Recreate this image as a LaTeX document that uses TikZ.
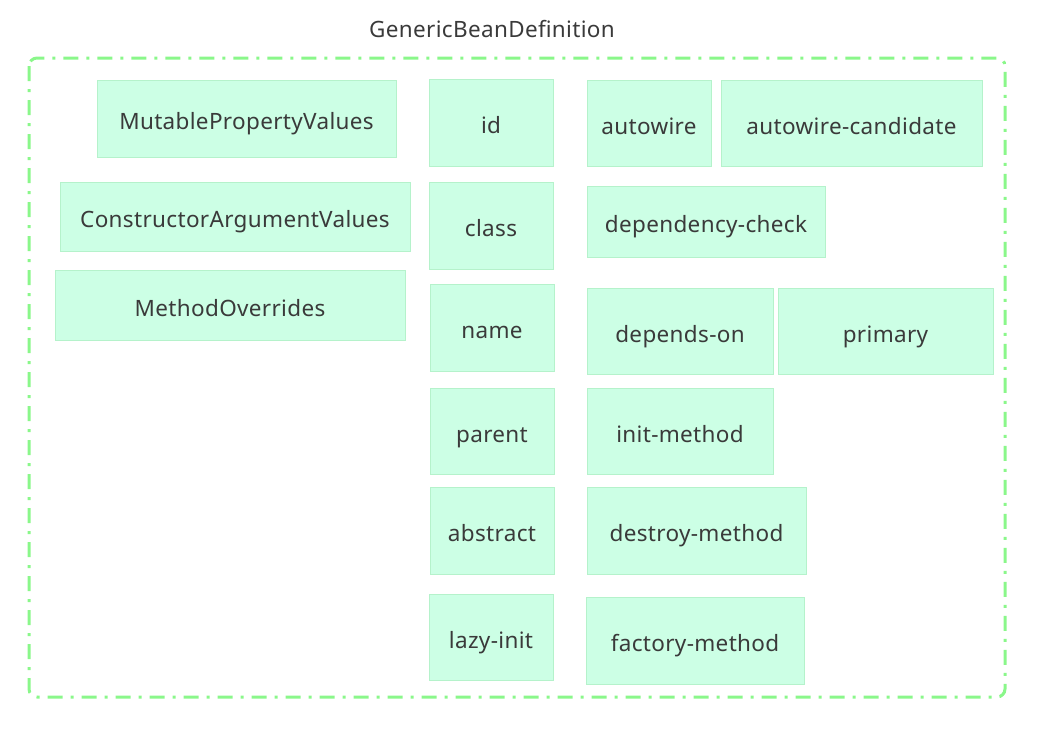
\documentclass[tikz,border=0pt]{standalone}
\usepackage{fontspec}
\setmainfont{Noto Sans}[LetterSpace=1.5]
\definecolor{boxfill}{HTML}{CCFFE5}
\definecolor{boxline}{HTML}{B5F2CB}
\definecolor{frame}{HTML}{8AF78A}
\definecolor{txt}{HTML}{3A3A3A}
\begin{document}
\begin{tikzpicture}[x=1pt,y=-1pt,
  lbl/.style={text=txt,font=\fontsize{22.5}{26}\selectfont},
  field/.style={lbl,draw=boxline,fill=boxfill,line width=1pt,inner sep=0pt,text height=23pt,text depth=0.5pt},
  outer/.style={draw=frame,line width=3pt,rounded corners=8pt,dash pattern=on 15pt off 8pt on 3pt off 8pt}]
\useasboundingbox (0,0) rectangle (1045,737);
\node[lbl] (title) at (492,29) {GenericBeanDefinition};
\draw[outer] (29,58) rectangle (1005,697);
\def\B#1#2#3#4#5#6{\node[field,minimum width={#4-#2},minimum height={#5-#3}] (#1) at ({(#2+#4)/2},{(#3+#5)/2}) {#6};}
\B{mpv}{97}{80}{396}{157}{MutablePropertyValues}
\B{cav}{60}{182}{410}{251}{ConstructorArgumentValues}
\B{mo}{55}{270}{405}{340}{MethodOverrides}
\B{id}{429}{79}{553}{166}{id}
\B{class}{429}{182}{553}{269}{class}
\B{name}{430}{284}{554}{371}{name}
\B{parent}{430}{388}{554}{474}{parent}
\B{abstract}{430}{487}{554}{574}{abstract}
\B{lazy}{429}{594}{553}{680}{lazy-init}
\B{autowire}{587}{80}{711}{166}{autowire}
\B{awc}{721}{80}{982}{166}{autowire-candidate}
\B{dep}{587}{186}{825}{257}{dependency-check}
\B{depon}{587}{288}{773}{374}{depends-on}
\B{primary}{778}{288}{993}{374}{primary}
\B{init}{587}{388}{773}{474}{init-method}
\B{destroy}{587}{487}{806}{574}{destroy-method}
\B{factory}{586}{597}{804}{684}{factory-method}
\end{tikzpicture}
\end{document}
